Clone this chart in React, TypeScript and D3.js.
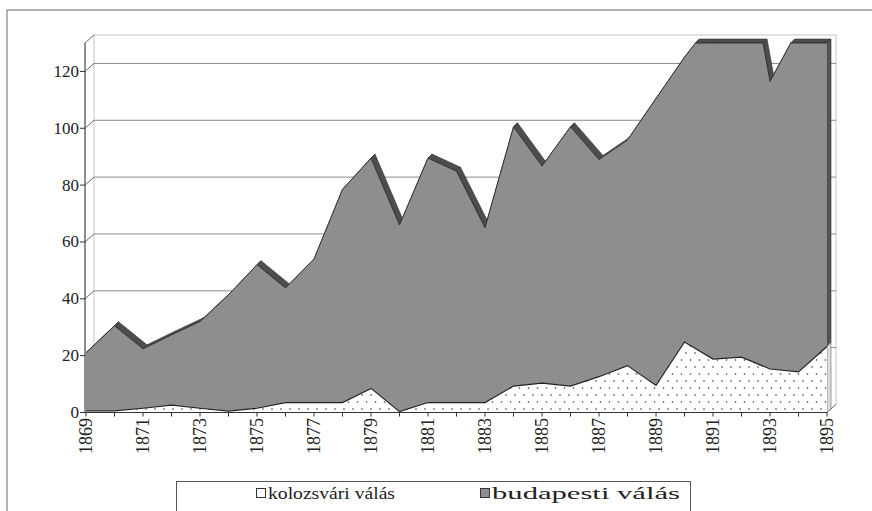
import React from 'react';
import * as d3 from 'd3';

const years = [1869, 1870, 1871, 1872, 1873, 1874, 1875, 1876, 1877, 1878, 1879, 1880, 1881, 1882, 1883, 1884, 1885, 1886, 1887, 1888, 1889, 1890, 1891, 1892, 1893, 1894, 1895];
const kolozsvari = [0.6, 0.6, 1.5, 2.6, 1.5, 0.5, 1.5, 3.5, 3.5, 3.5, 8.5, 0.3, 3.5, 3.5, 3.5, 9.3, 10.3, 9.3, 12.6, 16.5, 9.5, 24.8, 18.8, 19.5, 15.3, 14.3, 23.2];
const budapesti = [20.4, 29.9, 20.9, 24.7, 30.5, 40.9, 50.5, 40.3, 50.5, 75.0, 81.0, 65.7, 86.0, 81.4, 61.5, 91.2, 76.4, 91.2, 76.4, 79.4, 101.0, 100.2, 119.2, 152.5, 101.2, 120.7, 116.8];
const yTicks = [0, 20, 40, 60, 80, 100, 120];
const xLabelYears = [1869, 1871, 1873, 1875, 1877, 1879, 1881, 1883, 1885, 1887, 1889, 1891, 1893, 1895];
const seriesNames = ['kolozsvári válás', 'budapesti válás'];
const yMax = 130;

const FONT = 'Liberation Serif, Liberation Sans';

export default function App() {
  const W = 872, H = 511;
  const x = d3.scaleLinear().domain([1869, 1895]).range([86, 827]);
  const y = d3.scaleLinear().domain([0, yMax]).range([412.5, 43]);
  const DX = 9, DY = -8;
  const SX = 4, SY = -4;

  const rows = years.map((yr, i) => ({ yr, k: kolozsvari[i], b: budapesti[i] }));
  const stacked = d3.stack<any>().keys(['k', 'b'])(rows);
  const kTop = stacked[0].map(d => d[1]);
  const bTop = stacked[1].map(d => d[1]);

  const topPts: [number, number][] = [];
  for (let i = 0; i < years.length; i++) {
    const v = bTop[i];
    if (i > 0) {
      const pv = bTop[i - 1];
      if ((pv - yMax) * (v - yMax) < 0) {
        const t = (yMax - pv) / (v - pv);
        topPts.push([years[i - 1] + t, yMax]);
      }
    }
    topPts.push([years[i], Math.min(v, yMax)]);
  }
  const topXY = topPts.map(([a, v]) => [x(a), y(v)] as [number, number]);
  const kXY = years.map((yr, i) => [x(yr), y(kTop[i])] as [number, number]);

  const line = d3.line();
  const grayFront = 'M' + topXY.map(p => p.join(',')).join('L') + 'L' + kXY.slice().reverse().map(p => p.join(',')).join('L') + 'Z';
  const kArea = d3.area<number>().x((_, i) => x(years[i])).y0(y(0)).y1(d => y(d))(kTop) || '';

  const topFaces = topXY.slice(1).map((p, i) => {
    const q = topXY[i];
    return `M${q[0]},${q[1]}L${p[0]},${p[1]}L${p[0] + SX},${p[1] + SY}L${q[0] + SX},${q[1] + SY}Z`;
  });

  const xe = x(1895);
  const last = years.length - 1;
  const yTopE = topXY[topXY.length - 1][1];
  const yKE = y(kTop[last]);
  const sideGray = `M${xe},${yKE}L${xe},${yTopE}L${xe + SX},${yTopE + SY}L${xe + SX},${yKE + SY}Z`;
  const sideK = `M${xe},${y(0)}L${xe},${yKE}L${xe + SX},${yKE + SY}L${xe + SX},${y(0) + SY}Z`;

  const x0 = x.range()[0] - 1;
  const bx0 = x0 + DX, bx1 = xe + DX;
  const byTop = y(yMax) + DY;
  const byBot = y(0) + DY;

  return (
    <svg width={W} height={H} style={{ position: 'absolute', left: 0, top: 0, background: '#fff' }}>
      <defs>
        <pattern id="dots" width="9" height="14" patternUnits="userSpaceOnUse">
          <rect width="9" height="14" fill="#fff" />
          <circle cx="2" cy="3" r="0.8" fill="#333" />
          <circle cx="6.5" cy="10" r="0.8" fill="#333" />
        </pattern>
      </defs>
      <rect x={0} y={0} width={W} height={H} fill="#fff" />
      <rect x={7} y={10} width={900} height={600} fill="none" stroke="#666" strokeWidth={1} />

      <path d={`M${bx0},${byBot}L${bx0},${byTop}L${bx1},${byTop}L${bx1},${byBot}`} fill="none" stroke="#888" strokeWidth={1} strokeDasharray="1,1" />
      {yTicks.filter(t => t > 0).map(t => (
        <g key={t}>
          <line x1={bx0} x2={bx1} y1={y(t) + DY} y2={y(t) + DY} stroke="#8a8a8a" strokeWidth={1} />
          <line x1={x0} y1={y(t)} x2={bx0} y2={y(t) + DY} stroke="#666" strokeWidth={1} />
        </g>
      ))}
      <line x1={x0} y1={y(0)} x2={x0} y2={y(yMax)} stroke="#444" strokeWidth={1.2} />
      <line x1={x0} y1={y(yMax)} x2={bx0} y2={byTop} stroke="#666" strokeWidth={1} />
      <line x1={xe} y1={y(0)} x2={bx1} y2={byBot} stroke="#666" strokeWidth={1} />

      {topFaces.map((d, i) => (
        <path key={i} d={d} fill="#4d4d4d" stroke="#333" strokeWidth={0.6} />
      ))}
      <path d={sideGray} fill="#555" stroke="#333" strokeWidth={0.6} />
      <path d={sideK} fill="#ddd" stroke="#666" strokeWidth={0.6} />
      <path d={grayFront} fill="#8e8e8e" stroke="none" />
      <path d={line(topXY) || ''} fill="none" stroke="#333" strokeWidth={1} />
      <path d={kArea} fill="url(#dots)" stroke="none" />
      <path d={line(kXY) || ''} fill="none" stroke="#222" strokeWidth={1.2} />

      <line x1={x0} x2={xe} y1={y(0)} y2={y(0)} stroke="#333" strokeWidth={1.2} />
      {years.map(yr => (
        <line key={yr} x1={x(yr)} x2={x(yr)} y1={y(0)} y2={y(0) + 4} stroke="#333" strokeWidth={1} />
      ))}
      {xLabelYears.map(yr => (
        <text key={yr} transform={`translate(${x(yr)},418) rotate(-90)`} textAnchor="end" dominantBaseline="central"
          fontFamily={FONT} fontSize={18} fill="#222">{yr}</text>
      ))}
      {yTicks.map(t => (
        <g key={t}>
          <line x1={x0 - 5} x2={x0} y1={y(t)} y2={y(t)} stroke="#333" strokeWidth={1} />
          <text x={x0 - 6} y={y(t)} textAnchor="end" dominantBaseline="central" fontFamily={FONT} fontSize={17} fill="#222">{t}</text>
        </g>
      ))}

      <rect x={176.5} y={481.5} width={514} height={60} fill="#fff" stroke="#555" strokeWidth={1} />
      <rect x={256.5} y={488.5} width={9} height={9} fill="#fff" stroke="#333" strokeWidth={1} />
      <text x={268} y={499} fontFamily={FONT} fontSize={17} fill="#222" textLength={127} lengthAdjust="spacingAndGlyphs">{seriesNames[0]}</text>
      <rect x={480.5} y={488.5} width={9} height={9} fill="#8e8e8e" stroke="#333" strokeWidth={1} />
      <text x={492} y={499} fontFamily={FONT} fontSize={17} fill="#222" textLength={188} lengthAdjust="spacingAndGlyphs">{seriesNames[1]}</text>
    </svg>
  );
}
